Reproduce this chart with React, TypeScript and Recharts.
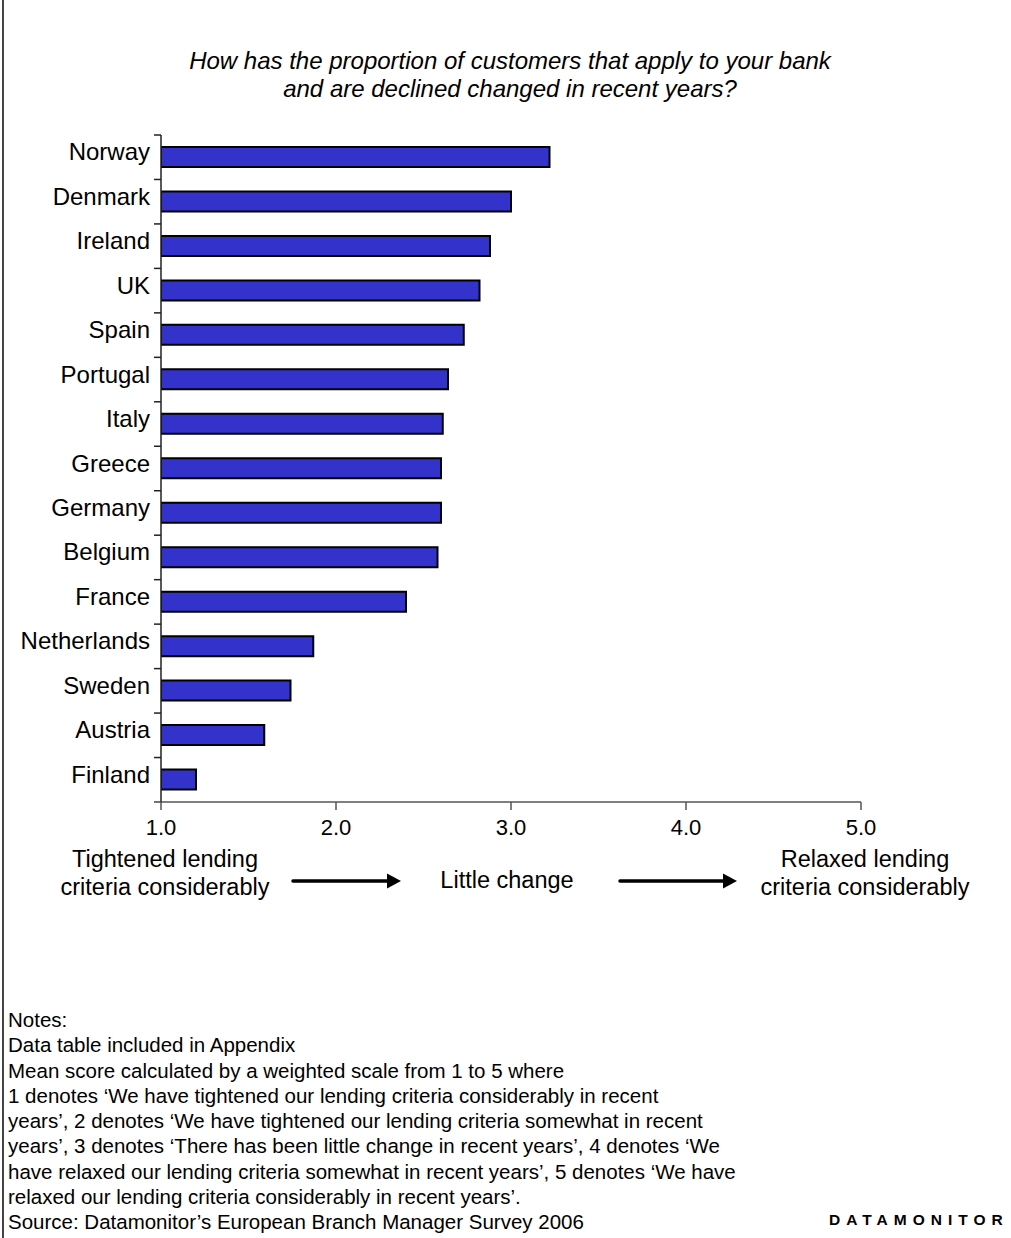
import React from "react"
import { Bar, BarChart, XAxis, YAxis } from "recharts"

// mean score per country, 1 = tightened considerably, 5 = relaxed considerably
const countries = [
  "Norway",
  "Denmark",
  "Ireland",
  "UK",
  "Spain",
  "Portugal",
  "Italy",
  "Greece",
  "Germany",
  "Belgium",
  "France",
  "Netherlands",
  "Sweden",
  "Austria",
  "Finland"
]
const scores = [3.22, 3.0, 2.88, 2.82, 2.73, 2.64, 2.61, 2.6, 2.6, 2.58, 2.4, 1.87, 1.74, 1.59, 1.2]
const scaleTicks = [1, 2, 3, 4, 5]

const titleLines = [
  "How has the proportion of customers that apply to your bank",
  "and are declined changed in recent years?"
]
const noteLines = [
  "Notes:",
  "Data table included in Appendix",
  "Mean score calculated by a weighted scale from 1 to 5 where",
  "1 denotes \u2018We have tightened our lending criteria considerably in recent",
  "years\u2019, 2 denotes \u2018We have tightened our lending criteria somewhat in recent",
  "years\u2019, 3 denotes \u2018There has been little change in recent years\u2019, 4 denotes \u2018We",
  "have relaxed our lending criteria somewhat in recent years\u2019, 5 denotes \u2018We have",
  "relaxed our lending criteria considerably in recent years\u2019.",
  "Source: Datamonitor\u2019s European Branch Manager Survey 2006"
]

const data = countries.map((country, i) => ({ country, score: scores[i] }))

const FONT = "Arial, 'Liberation Sans', Helvetica, sans-serif"
const CHART_W = 1011
const CHART_H = 860
const MARGIN = { top: 135, right: 150, bottom: 18, left: 0 }
const AXIS_W = 161
const AXIS_H = 40
const PLOT_LEFT = MARGIN.left + AXIS_W
const BAND = (CHART_H - MARGIN.top - MARGIN.bottom - AXIS_H) / countries.length

function CountryTick(props: any) {
  const { y, payload, index } = props
  const top = y - BAND / 2
  const last = index === countries.length - 1
  return (
    <g>
      <line x1={PLOT_LEFT - 7} x2={PLOT_LEFT} y1={top} y2={top} stroke="#222" strokeWidth={1.5} />
      {last && (
        <line
          x1={PLOT_LEFT - 7}
          x2={PLOT_LEFT}
          y1={top + BAND}
          y2={top + BAND}
          stroke="#444"
          strokeWidth={1.5}
        />
      )}
      <text
        x={PLOT_LEFT - 11}
        y={y + 3}
        textAnchor="end"
        fontSize={24}
        fontFamily={FONT}
        fill="#000"
      >
        {payload.value}
      </text>
    </g>
  )
}

function Arrow({ x1, x2, y }: { x1: number; x2: number; y: number }) {
  return (
    <g>
      <line x1={x1} x2={x2 - 12} y1={y} y2={y} stroke="#000" strokeWidth={3.5} strokeLinecap="round" />
      <polygon points={`${x2 - 14},${y - 7.5} ${x2},${y} ${x2 - 14},${y + 7.5}`} fill="#000" />
    </g>
  )
}

const labelStyle: React.CSSProperties = {
  position: "absolute",
  fontSize: 23.5,
  lineHeight: "28px",
  textAlign: "center",
  color: "#000",
  whiteSpace: "nowrap"
}

export default function App() {
  return (
    <div
      style={{
        position: "absolute",
        left: 0,
        top: 0,
        width: CHART_W,
        height: 1238,
        background: "#fff",
        fontFamily: FONT,
        overflow: "hidden"
      }}
    >
      <div style={{ position: "absolute", left: 2, top: 0, width: 2, height: 1238, background: "#444" }} />

      <div
        style={{
          position: "absolute",
          left: 0,
          top: 47,
          width: 1020,
          textAlign: "center",
          fontStyle: "italic",
          fontSize: 24,
          lineHeight: "28px",
          color: "#000"
        }}
      >
        {titleLines.map((line) => (
          <div key={line}>{line}</div>
        ))}
      </div>

      <div style={{ position: "absolute", left: 0, top: 0 }}>
        <BarChart
          width={CHART_W}
          height={CHART_H}
          data={data}
          layout="vertical"
          margin={MARGIN}
        >
          <XAxis
            type="number"
            domain={[1, 5]}
            ticks={scaleTicks}
            allowDataOverflow
            height={AXIS_H}
            stroke="#555"
            strokeWidth={1.5}
            tickSize={8}
            tickMargin={9}
            tickFormatter={(v: number) => v.toFixed(1)}
            tick={{ fill: "#000", fontSize: 22, fontFamily: FONT }}
          />
          <YAxis
            type="category"
            dataKey="country"
            width={AXIS_W}
            stroke="#222"
            strokeWidth={1.5}
            tickLine={false}
            interval={0}
            tick={<CountryTick />}
          />
          <Bar
            dataKey="score"
            barSize={20}
            fill="#3333CC"
            stroke="#000"
            strokeWidth={2}
            isAnimationActive={false}
          />
        </BarChart>
      </div>

      <svg
        width={CHART_W}
        height={40}
        style={{ position: "absolute", left: 0, top: 861 }}
      >
        <Arrow x1={293} x2={401} y={20} />
        <Arrow x1={620} x2={737} y={20} />
      </svg>

      <div style={{ ...labelStyle, left: 45, top: 845, width: 240 }}>
        <div>Tightened lending</div>
        <div>criteria considerably</div>
      </div>
      <div style={{ ...labelStyle, left: 407, top: 866, width: 200 }}>Little change</div>
      <div style={{ ...labelStyle, left: 745, top: 845, width: 240 }}>
        <div>Relaxed lending</div>
        <div>criteria considerably</div>
      </div>

      <div
        style={{
          position: "absolute",
          left: 8,
          top: 1007,
          fontSize: 20.5,
          lineHeight: "25.25px",
          color: "#000",
          whiteSpace: "nowrap"
        }}
      >
        {noteLines.map((line) => (
          <div key={line}>{line}</div>
        ))}
      </div>

      <div
        style={{
          position: "absolute",
          left: 829,
          top: 1211,
          fontSize: 15.5,
          fontWeight: "bold",
          letterSpacing: 6,
          color: "#000",
          whiteSpace: "nowrap"
        }}
      >
        DATAMONITOR
      </div>
    </div>
  )
}
